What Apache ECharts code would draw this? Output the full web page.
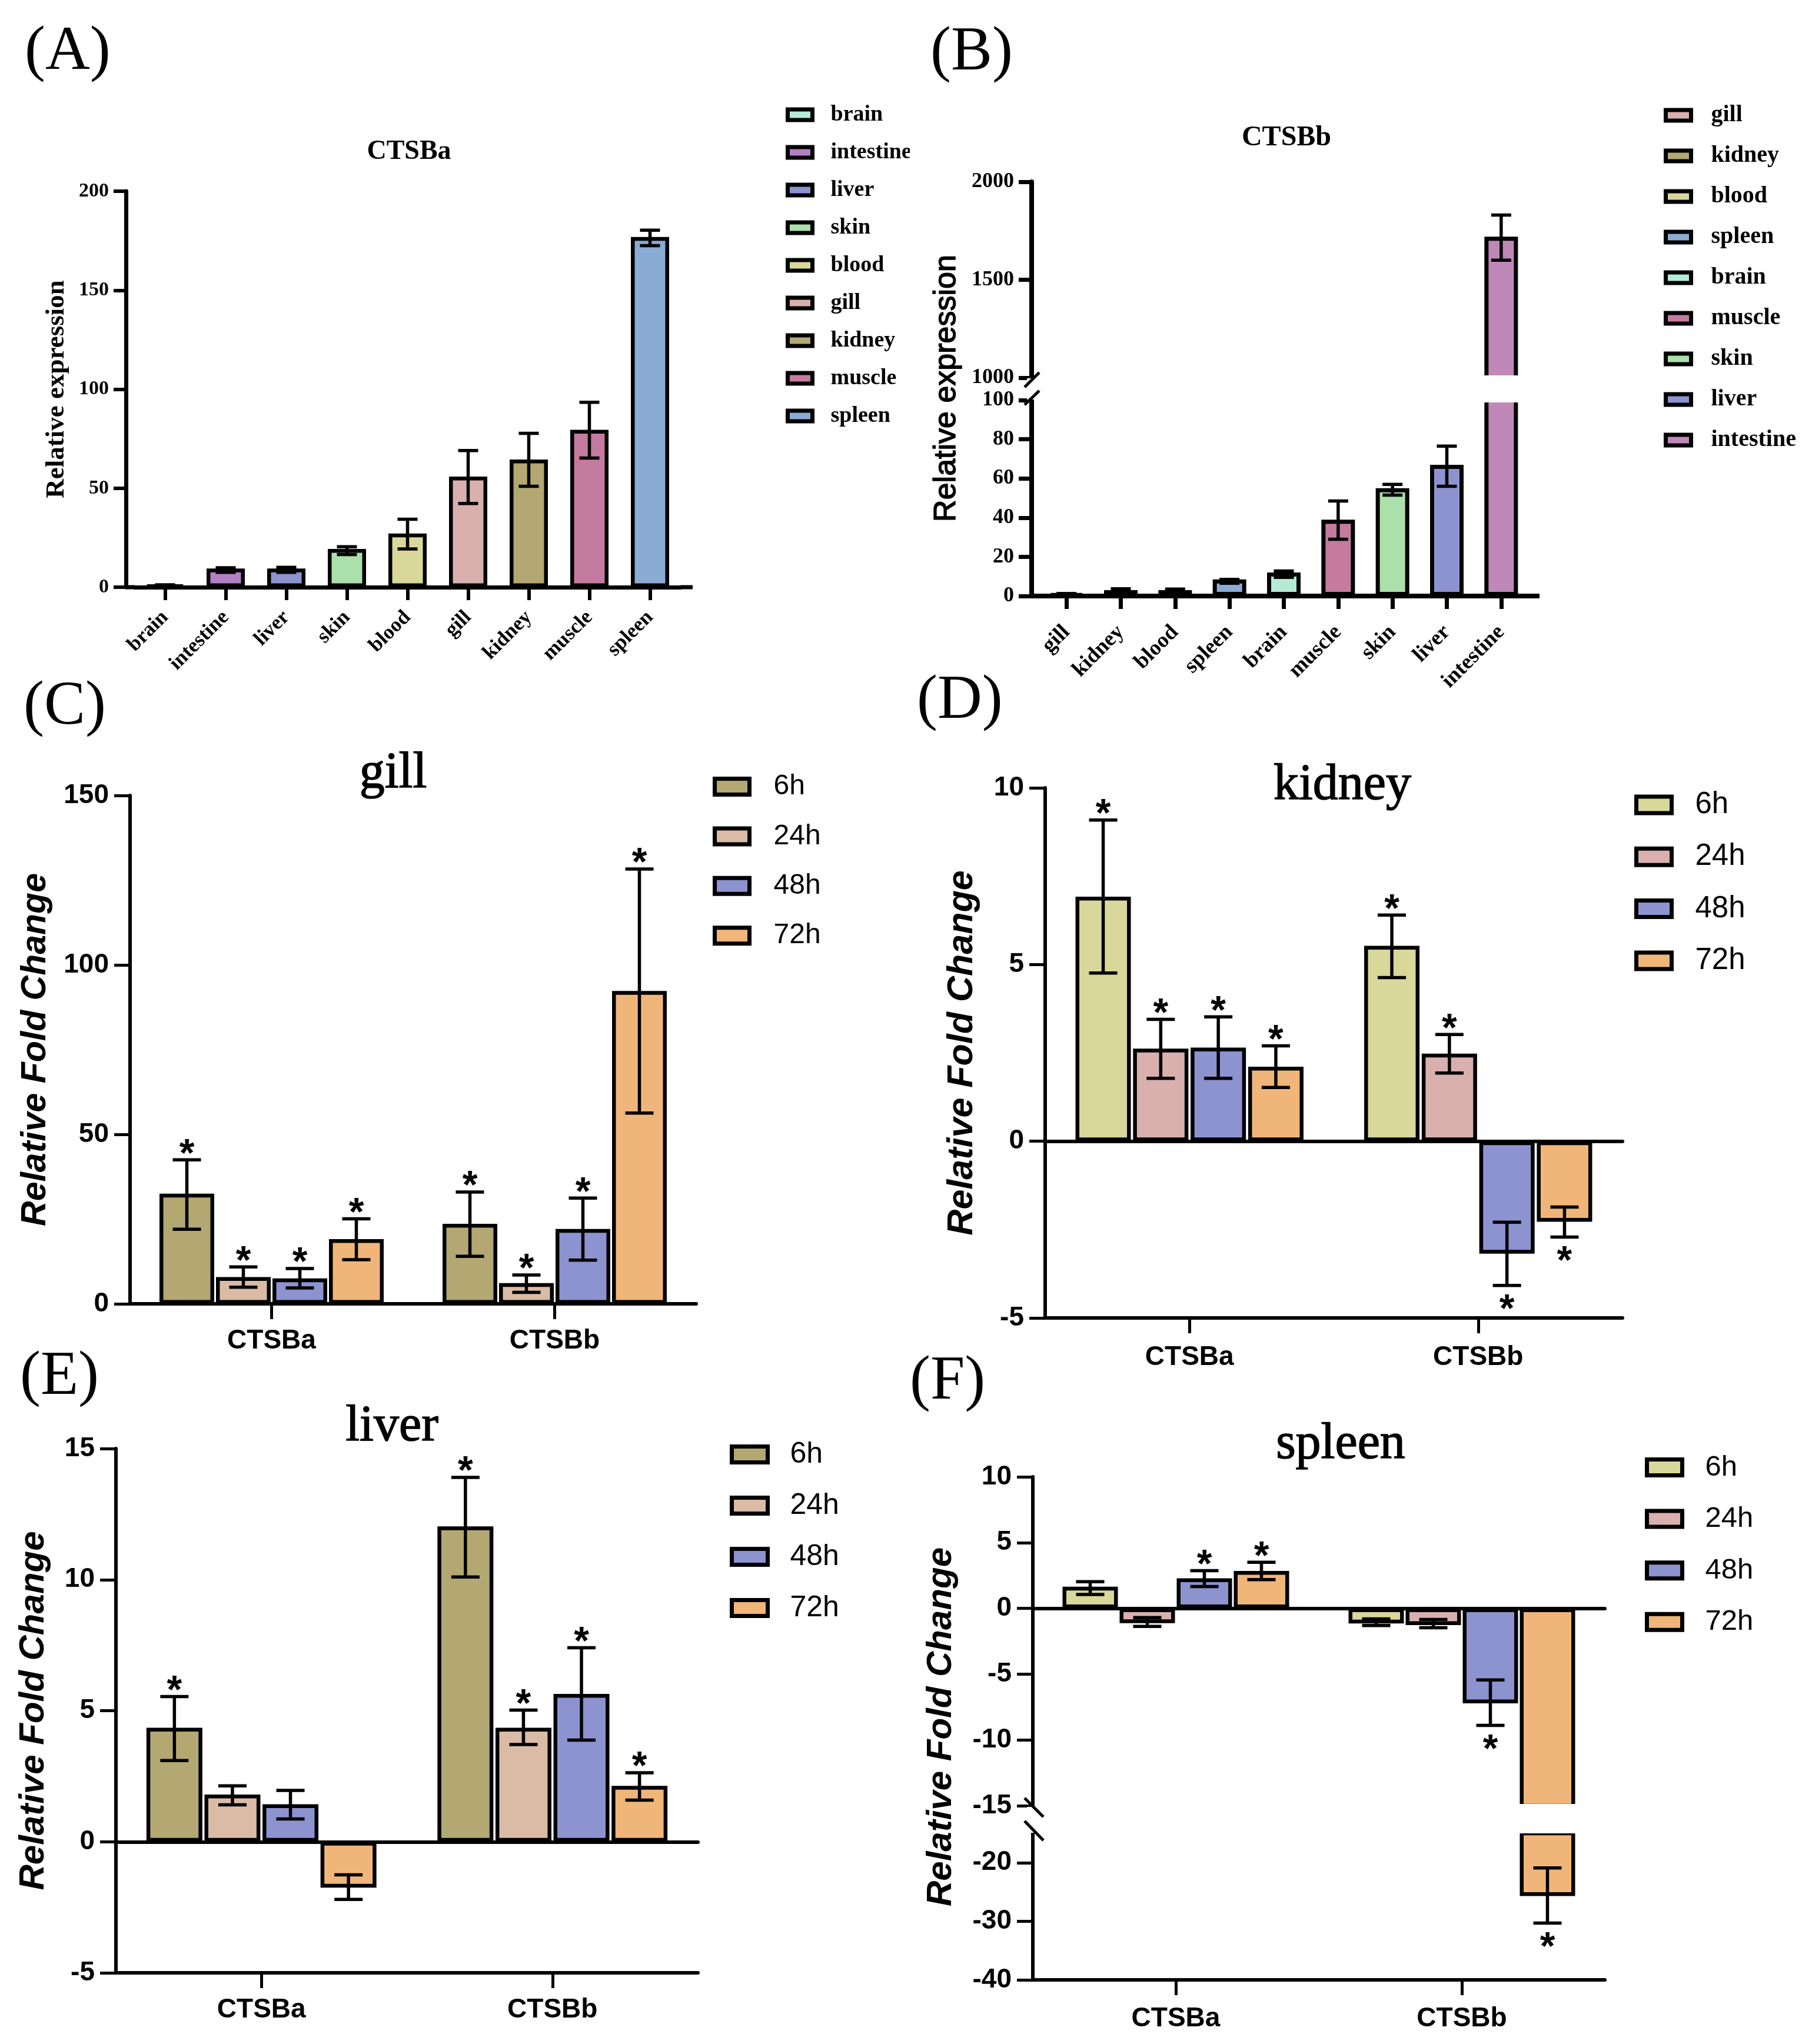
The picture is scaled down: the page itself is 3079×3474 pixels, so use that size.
<!DOCTYPE html>
<html><head><meta charset="utf-8"><style>html,body{margin:0;padding:0;background:#fff}#c{width:3079px;height:3474px}</style>
<script src="https://cdn.jsdelivr.net/npm/echarts@6/dist/echarts.min.js"></script></head>
<body><div id="c"></div><script>
// ---------- data ----------
const tissueColors={brain:'#B5EAD7',intestine:'#B27FC4',liver:'#8C93CF',skin:'#ACE0AB',blood:'#D9D89A',gill:'#D9B0AE',kidney:'#B3A872',muscle:'#C47B9F',spleen:'#8AABD3'};
const tissueColorsB=Object.assign({},tissueColors,{intestine:'#C088B8'});
const ctsbaTissues=['brain','intestine','liver','skin','blood','gill','kidney','muscle','spleen'];
const ctsbaValues=[1,9.4,9.4,19.3,27.1,55.9,64.5,79.5,176.9];
const ctsbaHigh=[1.2,9.8,10,20.4,34.3,69,77.7,93.4,180.3];
const ctsbaLow=[0.8,7.5,7.5,16.5,19.3,42.3,51,65.2,172.5];
const ctsbbTissues=['gill','kidney','blood','spleen','brain','muscle','skin','liver','intestine'];
const ctsbbValues=[1,3,3,8.5,12,39,55,67,1720];
const ctsbbHigh=[1.3,3.7,3.5,8.5,12.8,48.5,57,76.5,1830];
const ctsbbLow=[0.7,1.5,1.7,6.5,9.5,29,51.5,56,1600];
const genes=['CTSBa','CTSBb'];
const hours=['6h','24h','48h','72h'];
const gillValues=[[32.5,23.6],[7.9,6.1],[7.5,22.1],[19.1,92.3]];
const gillHigh=[[42.5,33],[10.9,8.5],[10.4,31.2],[25.1,128.3]];
const gillLow=[[22,14],[4.9,3.4],[4.7,12.9],[13,56.3]];
const gillStars=[[1,1],[1,1],[1,1],[1,1]];
const kidneyValues=[[6.92,5.53],[2.62,2.48],[2.65,-3.18],[2.11,-2.28]];
const kidneyHigh=[[9.09,6.4],[3.45,3.02],[3.52,-2.29],[2.7,-1.86]];
const kidneyLow=[[4.76,4.63],[1.78,1.93],[1.78,-4.08],[1.52,-2.71]];
const kidneyStars=[[1,1],[1,1],[1,1],[1,1]];
const liverValues=[[4.35,12.03],[1.8,4.35],[1.43,5.64],[-1.75,2.13]];
const liverHigh=[[5.54,13.9],[2.13,5.02],[1.96,7.4],[-1.26,2.63]];
const liverLow=[[3.1,10.1],[1.41,3.71],[0.87,3.88],[-2.2,1.59]];
const liverStars=[[1,1],[0,1],[0,1],[0,1]];
const spleenValues=[[1.65,-1.15],[-1.12,-1.27],[2.28,-7.22],[2.84,-25.7]];
const spleenHigh=[[2.03,-0.8],[-0.7,-0.85],[2.87,-5.44],[3.5,-20.9]];
const spleenLow=[[1.05,-1.3],[-1.37,-1.47],[1.66,-8.9],[2.19,-30.3]];
const spleenStars=[[0,0],[0,0],[1,1],[1,1]];
const palette1={'6h':'#B3A872','24h':'#DABBA5','48h':'#8C93CF','72h':'#F0B679'};
const palette2={'6h':'#D9D89A','24h':'#D9B0AE','48h':'#8C93CF','72h':'#F0B679'};

// ---------- helpers ----------
const SERIF='Liberation Serif',SANS='Liberation Sans';
const grids=[],xAxes=[],yAxes=[],series=[],legends=[],titles=[],graphics=[];
function gLine(x1,y1,x2,y2,w){graphics.push({type:'line',z:60,shape:{x1,y1,x2,y2},style:{stroke:'#000',lineWidth:w}});}
function gCover(x,y,width,height){graphics.push({type:'rect',z:50,shape:{x,y,width,height},style:{fill:'#fff'}});}
function gVText(text,x,y,font,sw){graphics.push({type:'text',z:60,x,y,rotation:Math.PI/2,style:{text,font,fill:'#000',stroke:sw?'#000':null,lineWidth:sw||0,align:'center',verticalAlign:'middle'}});}
function addTitle(text,x,y,font,align){titles.push({text,left:x,top:y,padding:0,textAlign:align,textVerticalAlign:'middle',textStyle:Object.assign({color:'#000'},font)});}
function crosses(v,seg){return Math.min(0,v)<seg.max&&Math.max(0,v)>seg.min;}
function errorRender(offset,capHalf,lw,fs){
  return function(params,api){
    const cat=api.value(0),val=api.value(1),hi=api.value(2),lo=api.value(3),star=api.value(4);
    const x=api.coord([cat,0])[0]+offset,yh=api.coord([cat,hi])[1],yl=api.coord([cat,lo])[1];
    const ls={stroke:'#000',lineWidth:lw};
    const ch=[
      {type:'line',shape:{x1:x,y1:yh,x2:x,y2:yl},style:ls},
      {type:'line',shape:{x1:x-capHalf,y1:yh,x2:x+capHalf,y2:yh},style:ls},
      {type:'line',shape:{x1:x-capHalf,y1:yl,x2:x+capHalf,y2:yl},style:ls}];
    if(star){const sy=val>=0?yh-23:yl+28;
      ch.push({type:'text',style:{x,y:sy+fs*0.23,text:'*',font:'bold '+fs+'px "'+SANS+'"',fill:'#000',align:'center',verticalAlign:'middle'}});}
    return {type:'group',children:ch};
  };
}
function addAxes(p,seg,cats,isLast){
  const g=grids.length;
  grids.push({left:p.left,width:p.right-p.left,top:seg.top,height:seg.bottom-seg.top,containLabel:false});
  const base={type:'category',data:cats,gridIndex:g,splitLine:{show:false}};
  const xi=xAxes.length;
  const axisLine=(onZero,show)=>({show,onZero,lineStyle:{color:'#000',width:p.axisW}});
  if(isLast){
    xAxes.push(Object.assign({},base,{position:'bottom',axisLine:axisLine(false,true),
      axisTick:{show:true,alignWithLabel:true,length:p.xTick,lineStyle:{color:'#000',width:p.axisW-1}},
      axisLabel:Object.assign({show:true,interval:0,color:'#000'},p.xLabel)}));
    if(seg.zeroLine) xAxes.push(Object.assign({},base,{position:'top',axisLine:axisLine(true,true),axisTick:{show:false},axisLabel:{show:false}}));
  } else {
    xAxes.push(Object.assign({},base,{position:'top',show:!!seg.zeroLine,axisLine:axisLine(true,!!seg.zeroLine),axisTick:{show:false},axisLabel:{show:false}}));
  }
  const yi=yAxes.length;
  const tk={show:true,length:p.yTick,lineStyle:{color:'#000',width:p.axisW-1}};
  const lb=Object.assign({show:true,color:'#000',formatter:v=>String(v)},p.yLabel);
  if(seg.custom){tk.customValues=seg.custom;lb.customValues=seg.custom;}
  const y={type:'value',gridIndex:g,min:seg.min,max:seg.max,interval:seg.interval,offset:p.yOffset||0,splitLine:{show:false},
    axisLine:axisLine(false,true),axisTick:tk,axisLabel:lb};
  if(p.yName){y.name=p.yName.text;y.nameLocation='middle';y.nameRotate=90;y.nameGap=p.yName.gap;y.nameTextStyle=p.yName.style;}
  yAxes.push(y);
  return {xi,yi};
}
function addLegend(names,colorOf,p){
  legends.push({orient:'vertical',left:p.left,top:p.c0-p.lh/2,icon:'rect',itemWidth:p.w,itemHeight:p.h,itemGap:p.step-p.lh,padding:0,selectedMode:false,
    itemStyle:{borderColor:'#000',borderWidth:p.bw},
    textStyle:Object.assign({color:'#000',lineHeight:p.lh,padding:[0,0,0,p.textGap]},p.font),
    data:names.map(n=>({name:n,icon:'rect',itemStyle:{color:colorOf[n],borderColor:'#000',borderWidth:p.bw}}))});
}
function tissuePanel(p,cats,vals,high,low,colors){
  p.segs.forEach((seg,si)=>{
    const a=addAxes(p,seg,cats,si===p.segs.length-1);
    cats.forEach((name,i)=>{
      series.push({type:'bar',name,xAxisIndex:a.xi,yAxisIndex:a.yi,barWidth:p.barW,barGap:'-100%',silent:true,
        itemStyle:{color:colors[name],borderColor:'#000',borderWidth:p.bw},
        data:cats.map((c,j)=>j===i&&crosses(vals[i],seg)?vals[i]:null)});
    });
    const rows=[];
    cats.forEach((c,i)=>{if(vals[i]>=seg.min&&vals[i]<=seg.max)rows.push([i,vals[i],high[i],low[i],0]);});
    series.push({type:'custom',name:'err',xAxisIndex:a.xi,yAxisIndex:a.yi,silent:true,clip:false,z:5,encode:{x:0,y:1},data:rows,
      renderItem:errorRender(0,p.cap,p.errW,60)});
  });
}
function foldPanel(p,vals,high,low,stars,colors){
  const spacing=p.spacing;
  p.segs.forEach((seg,si)=>{
    const a=addAxes(p,seg,genes,si===p.segs.length-1);
    hours.forEach((h,k)=>{
      series.push({type:'bar',name:h,xAxisIndex:a.xi,yAxisIndex:a.yi,barWidth:p.barW,barGap:((spacing-p.barW)/p.barW*100)+'%',silent:true,
        itemStyle:{color:colors[h],borderColor:'#000',borderWidth:p.bw},
        data:genes.map((g,j)=>crosses(vals[k][j],seg)?vals[k][j]:null)});
      const rows=[];
      genes.forEach((g,j)=>{if(vals[k][j]>=seg.min&&vals[k][j]<=seg.max)rows.push([j,vals[k][j],high[k][j],low[k][j],stars[k][j]]);});
      series.push({type:'custom',name:'err',xAxisIndex:a.xi,yAxisIndex:a.yi,silent:true,clip:false,z:5,encode:{x:0,y:1},data:rows,
        renderItem:errorRender((k-1.5)*spacing,p.cap,p.errW,66)});
    });
  });
}

// ---------- panels ----------
const letterFont={fontFamily:SERIF,fontSize:105,fontWeight:'normal'};
[['(A)',42,89],['(B)',1581,90],['(C)',40,1202],['(D)',1558,1192],['(E)',34,2341],['(F)',1546,2349]].forEach(t=>addTitle(t[0],t[1],t[2],letterFont,'left'));
addTitle('CTSBa',695,258,{fontFamily:SERIF,fontSize:46,fontWeight:'bold'},'center');
addTitle('CTSBb',2186,235,{fontFamily:SERIF,fontSize:48,fontWeight:'bold'},'center');
const headFont={fontFamily:SERIF,fontSize:86,fontWeight:'normal',textBorderColor:'#000',textBorderWidth:1.5};
addTitle('gill',668,1315,headFont,'center');
addTitle('kidney',2281,1335,headFont,'center');
addTitle('liver',666,2425,headFont,'center');
addTitle('spleen',2278,2455,headFont,'center');

// A
tissuePanel({left:229,right:1156,yOffset:15,axisW:7,xTick:22,yTick:21,barW:65,bw:6.5,cap:17,errW:5.5,
  xLabel:{rotate:45,margin:46,fontFamily:SERIF,fontWeight:'bold',fontSize:35},
  yLabel:{margin:29,fontFamily:SERIF,fontWeight:'bold',fontSize:34},
  yName:{text:'Relative expression',gap:95,style:{fontFamily:SERIF,fontWeight:'bold',fontSize:45,color:'#000'}},
  segs:[{top:325,bottom:998,min:0,max:200,interval:50}]},ctsbaTissues,ctsbaValues,ctsbaHigh,ctsbaLow,tissueColors);
gLine(214,998,229,998,7);gLine(1156,998,1177,998,7);
addLegend(ctsbaTissues,tissueColors,{left:1335,c0:195,step:64,lh:40,w:42,h:18,bw:7,textGap:26,font:{fontFamily:SERIF,fontWeight:'bold',fontSize:38}});
gCover(1546,230,24,50);

// B
tissuePanel({left:1766,right:2597,yOffset:13,axisW:8,xTick:22,yTick:22,barW:57,bw:7,cap:17,errW:5.5,
  xLabel:{rotate:45,margin:56,fontFamily:SERIF,fontWeight:'bold',fontSize:37},
  yLabel:{margin:30,fontFamily:SERIF,fontWeight:'bold',fontSize:36},
  segs:[{top:309,bottom:642,min:1000,max:2000,interval:500},{top:680,bottom:1013,min:0,max:100,interval:20}]},ctsbbTissues,ctsbbValues,ctsbbHigh,ctsbbLow,tissueColorsB);
gLine(1753,1013,1766,1013,8);gLine(2597,1013,2616,1013,8);
gCover(2515,638,72,46);
gCover(1745,643,18,36);
gLine(1741,658,1766,633,5);gLine(1741,688,1766,664,5);
gVText('Relative expression',1609,660,'52px "'+SANS+'"',1.5);
addLegend(ctsbbTissues,tissueColorsB,{left:2827,c0:196,step:69,lh:44,w:43,h:18,bw:7,textGap:29,font:{fontFamily:SERIF,fontWeight:'bold',fontSize:40}});

const foldCommon={axisW:6,xTick:26,yTick:27,bw:6.5,cap:24,errW:5.5};
const xl=m=>({margin:m,fontFamily:SANS,fontWeight:'bold',fontSize:46});
const yl={margin:36,fontFamily:SANS,fontWeight:'bold',fontSize:46};
const nameStyle=fs=>({fontFamily:SANS,fontWeight:'bold',fontStyle:'italic',fontSize:fs,color:'#000'});
function foldLegend(colors,left,c0,step,w,h,textGap,fs){
  addLegend(hours,colors,{left,c0,step,lh:56,w,h,bw:7,textGap,font:{fontFamily:SANS,fontSize:fs}});
}
// C
foldPanel(Object.assign({},foldCommon,{left:221,right:1183,barW:93,spacing:96,xLabel:xl(40),yLabel:yl,
  yName:{text:'Relative Fold Change',gap:131,style:nameStyle(59)},
  segs:[{top:1352,bottom:2216,min:0,max:150,interval:50}]}),gillValues,gillHigh,gillLow,gillStars,palette1);
foldLegend(palette1,1211,1337,84.4,59,27,36,48);
// D
foldPanel(Object.assign({},foldCommon,{left:1776,right:2757,barW:94,spacing:97.8,xLabel:xl(44),yLabel:yl,
  yName:{text:'Relative Fold Change',gap:110,style:nameStyle(61)},
  segs:[{top:1339,bottom:2240,min:-5,max:10,interval:5,zeroLine:true}]}),kidneyValues,kidneyHigh,kidneyLow,kidneyStars,palette2);
foldLegend(palette2,2777,1368,88.3,60,28,35,51);
// E
foldPanel(Object.assign({},foldCommon,{left:197,right:1186,barW:95,spacing:98.6,xLabel:xl(40),yLabel:yl,
  yName:{text:'Relative Fold Change',gap:110,style:nameStyle(60)},
  segs:[{top:2462,bottom:3353,min:-5,max:15,interval:5,zeroLine:true}]}),liverValues,liverHigh,liverLow,liverStars,palette1);
foldLegend(palette1,1240,2472,87,61,27,33,50);
// F
foldPanel(Object.assign({},foldCommon,{left:1755,right:2727,barW:94,spacing:97,xLabel:xl(43),yLabel:yl,
  segs:[{top:2510,bottom:3069,min:-15,max:10,interval:5,zeroLine:true},
        {top:3116,bottom:3365,min:-40,max:-15,interval:10,custom:[-40,-30,-20]}]}),spleenValues,spleenHigh,spleenLow,spleenStars,palette2);
gCover(2575,3066,110,50);
gCover(1745,3071,20,44);
gLine(1741,3056,1773,3088,5);gLine(1741,3095,1773,3128,5);
gVText('Relative Fold Change',1599,2935,'italic bold 60px "'+SANS+'"');
foldLegend(palette2,2795,2494,87.6,60,27,34,49);

const chart=echarts.init(document.getElementById('c'),null,{renderer:'canvas',width:3079,height:3474});
chart.setOption({backgroundColor:'#fff',animation:false,title:titles,legend:legends,grid:grids,xAxis:xAxes,yAxis:yAxes,series:series,graphic:{elements:graphics},tooltip:{show:false}});
</script></body></html>
